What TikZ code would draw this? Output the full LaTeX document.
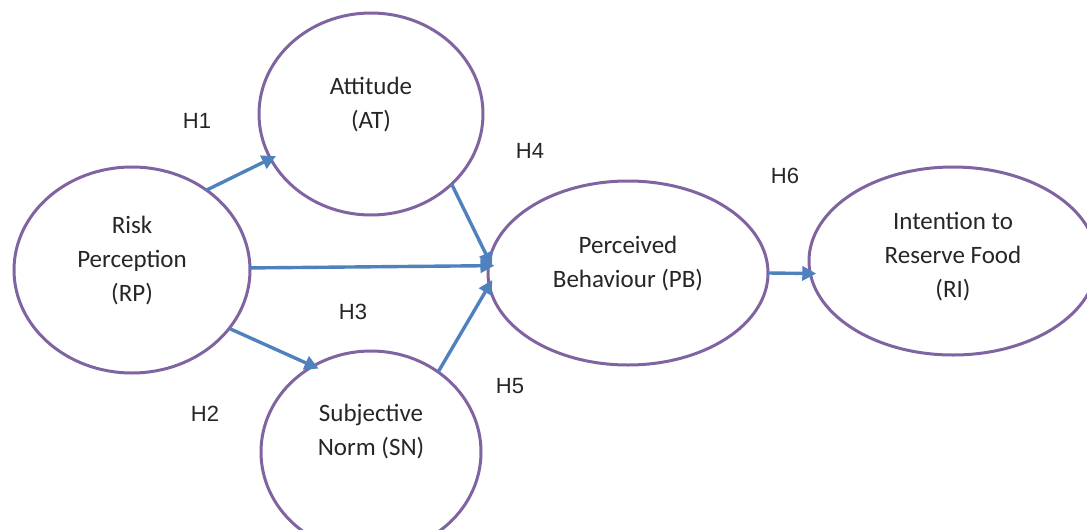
\documentclass[tikz,border=0pt]{standalone}
\usepackage{fontspec}
\setmainfont{Carlito}
\newfontfamily\labelfont{Liberation Sans}
\usetikzlibrary{arrows.meta,shapes.geometric}
\definecolor{elpurple}{HTML}{8064A2}
\definecolor{arblue}{HTML}{4F81BD}
\definecolor{txtgray}{HTML}{262626}
\tikzset{
  construct/.style={ellipse, draw=elpurple, line width=1.5pt, fill=white, inner sep=0pt, outer sep=0pt},
  ctext/.style={align=center, text=txtgray, font=\fontsize{12.5pt}{17pt}\selectfont},
  hlabel/.style={text=txtgray, font=\labelfont\fontsize{11pt}{13pt}\selectfont},
  path arrow/.style={draw=arblue, line width=1.7pt, -{Triangle[length=7pt,width=7pt]}, shorten >=-3pt}
}
\begin{document}
\begin{tikzpicture}[x=0.5pt,y=-0.5pt]
\useasboundingbox (0,0) rectangle (1087,530);
\begin{scope}
\clip (0,0) rectangle (1087,530);
\node[construct, minimum width=118pt, minimum height=103pt] (RP) at (132,270) {};
\node[construct, minimum width=112pt, minimum height=101pt] (AT) at (371,114) {};
\node[construct, minimum width=110pt, minimum height=101pt] (SN) at (371,452) {};
\node[construct, minimum width=140pt, minimum height=92pt] (PB) at (628,273) {};
\node[construct, minimum width=144pt, minimum height=94pt] (RI) at (953,261) {};
\end{scope}
\node[ctext] (RPt) at (132,261) {Risk\\Perception\\(RP)};
\node[ctext] (ATt) at (371,105) {Attitude\\(AT)};
\node[ctext] (SNt) at (371,432) {Subjective\\Norm (SN)};
\node[ctext] (PBt) at (628,264) {Perceived\\Behaviour (PB)};
\node[ctext] (RIt) at (953,257) {Intention to\\Reserve Food\\(RI)};
\draw[path arrow] (RP.47.2) -- (AT.204.6);
\draw[path arrow] (AT.319.8) -- (PB.175.6);
\draw[path arrow] (RP.1.4) -- (PB.177.6);
\draw[path arrow] (RP.329) -- (SN.124.8);
\draw[path arrow] (SN.50.8) -- (PB.185.1);
\draw[path arrow] (PB.0.5) -- (RI.185.2);
\node[hlabel] (H1) at (197,121) {H1};
\node[hlabel] (H2) at (205,414) {H2};
\node[hlabel] (H3) at (353,312) {H3};
\node[hlabel] (H4) at (530,151) {H4};
\node[hlabel] (H5) at (510,386) {H5};
\node[hlabel] (H6) at (785,176) {H6};
\end{tikzpicture}
\end{document}
